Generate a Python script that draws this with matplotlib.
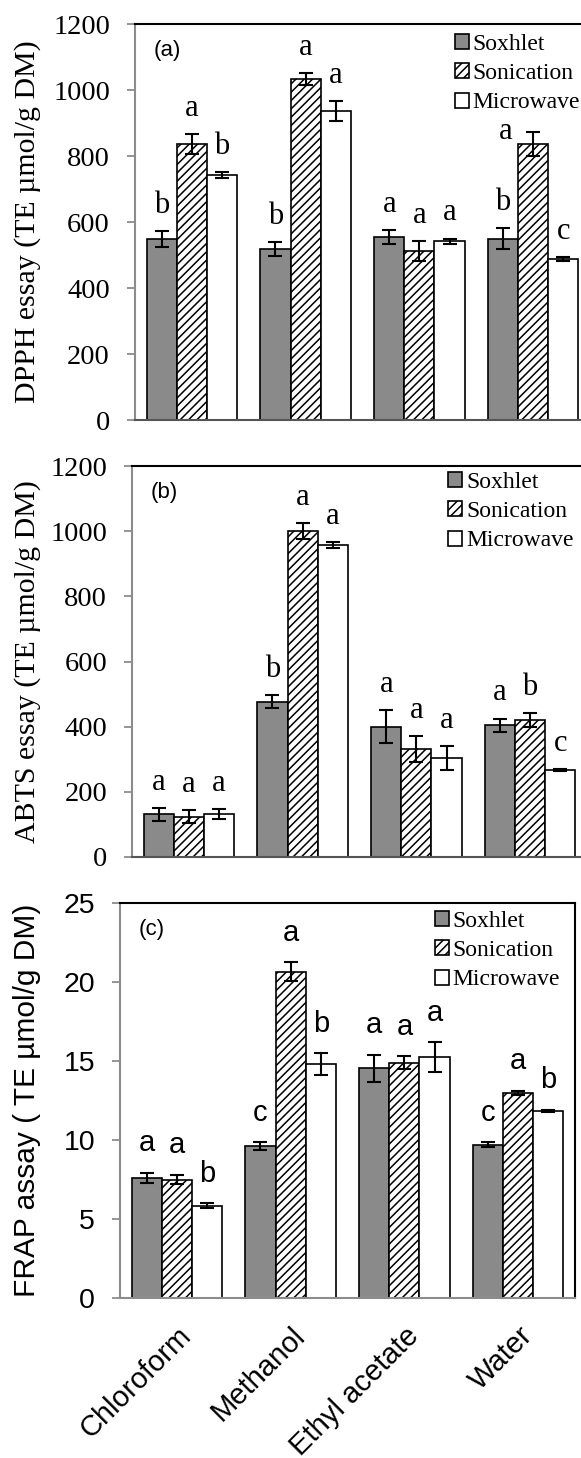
import matplotlib.pyplot as plt
from matplotlib.font_manager import FontProperties
import numpy as np

# solvents and extraction methods
categories = ["Chloroform", "Methanol", "Ethyl acetate", "Water"]
methods = ["Soxhlet", "Sonication", "Microwave"]

# (a) DPPH
dpph_soxhlet = [548, 518, 555, 550]
dpph_sonication = [836, 1033, 513, 836]
dpph_microwave = [742, 936, 542, 488]
dpph_soxhlet_err = [25, 20, 22, 33]
dpph_sonication_err = [30, 18, 30, 37]
dpph_microwave_err = [10, 30, 8, 6]
dpph_soxhlet_lab = ["b", "b", "a", "b"]
dpph_sonication_lab = ["a", "a", "a", "a"]
dpph_microwave_lab = ["b", "a", "a", "c"]

# (b) ABTS
abts_soxhlet = [131, 477, 400, 405]
abts_sonication = [123, 1000, 332, 420]
abts_microwave = [133, 957, 305, 268]
abts_soxhlet_err = [20, 21, 50, 20]
abts_sonication_err = [20, 25, 40, 22]
abts_microwave_err = [15, 10, 37, 3]
abts_soxhlet_lab = ["a", "b", "a", "a"]
abts_sonication_lab = ["a", "a", "a", "b"]
abts_microwave_lab = ["a", "a", "a", "c"]

# (c) FRAP
frap_soxhlet = [7.6, 9.62, 14.55, 9.7]
frap_sonication = [7.5, 20.65, 14.9, 12.97]
frap_microwave = [5.85, 14.8, 15.25, 11.85]
frap_soxhlet_err = [0.32, 0.25, 0.85, 0.15]
frap_sonication_err = [0.3, 0.6, 0.4, 0.15]
frap_microwave_err = [0.15, 0.7, 0.95, 0.07]
frap_soxhlet_lab = ["a", "c", "a", "c"]
frap_sonication_lab = ["a", "a", "a", "a"]
frap_microwave_lab = ["b", "b", "a", "b"]

SERIF = "Liberation Serif"
SANS = "Liberation Sans"
GREY = "#8c8c8c"
W, H = 581, 1458

fig = plt.figure(figsize=(W / 100, H / 100), dpi=100)
plt.rcParams["hatch.linewidth"] = 1.1


def assi_px(left, top, right, bottom):
    return fig.add_axes([left / W, 1 - bottom / H, (right - left) / W, (bottom - top) / H])


def pannello(ax, valori, errori, lettere, ylim, yticks, ylabel, tag, font,
             lab_x, leg_anchor, lett_off, lett_size, spost=None):
    spost = spost or {}
    x = np.arange(len(categories))
    w = 0.265
    stili = [dict(color="#8a8a8a", hatch=None),
             dict(color="white", hatch="////"),
             dict(color="white", hatch=None)]
    for i, m in enumerate(methods):
        pos = x + (i - 1) * w
        ax.bar(pos, valori[i], w, yerr=errori[i], color=stili[i]["color"],
               hatch=stili[i]["hatch"], edgecolor="black", linewidth=1.2, label=m,
               error_kw=dict(ecolor="black", elinewidth=1.5, capsize=5, capthick=1.5),
               zorder=2)
        for j, (xx, v, e, t) in enumerate(zip(pos, valori[i], errori[i], lettere[i])):
            dx, dy = spost.get((i, j), (0, 0))
            ax.annotate(t, (xx, v + e), xytext=(dx, lett_off + dy), textcoords="offset points",
                        ha="center", va="baseline", fontsize=lett_size, family=font)
    ax.set_xlim(-0.5, 3.5)
    ax.set_ylim(*ylim)
    ax.set_yticks(yticks)
    ax.set_yticklabels([str(t) for t in yticks], family=font, fontsize=20.5)
    ax.tick_params(axis="y", length=6, width=1.3, color=GREY, pad=12)
    ax.tick_params(axis="x", length=0)
    ax.set_xticks([])
    for s in ["top", "right"]:
        ax.spines[s].set_color("black")
        ax.spines[s].set_linewidth(1.5)
    ax.spines["left"].set_color(GREY)
    ax.spines["left"].set_linewidth(1.5)
    ax.spines["bottom"].set_color("#555555")
    ax.spines["bottom"].set_linewidth(1.5)
    ax.set_ylabel(ylabel, family=font, fontsize=21.5)
    ax.yaxis.set_label_coords(lab_x, 0.5)
    ax.text(0.07, 0.932, tag, transform=ax.transAxes, family=SANS, fontsize=16,
            ha="center", va="center")
    ax.legend(loc="upper left", bbox_to_anchor=leg_anchor, frameon=False,
              prop=FontProperties(family=SERIF, size=17), handlelength=0.6, handleheight=0.6,
              handletextpad=0.15, labelspacing=0.35, borderpad=0, borderaxespad=0)


ax_a = assi_px(135, 24, 590, 420)
pannello(ax_a,
         [dpph_soxhlet, dpph_sonication, dpph_microwave],
         [dpph_soxhlet_err, dpph_sonication_err, dpph_microwave_err],
         [dpph_soxhlet_lab, dpph_sonication_lab, dpph_microwave_lab],
         (0, 1200), [0, 200, 400, 600, 800, 1000, 1200],
         "DPPH essay (TE \u00b5mol/g DM)", "(a)", SERIF,
         -0.207, (0.703, 0.975), 13, 22, spost={(1, 3): (-20, -18)})

ax_b = assi_px(132, 466, 587, 857)
pannello(ax_b,
         [abts_soxhlet, abts_sonication, abts_microwave],
         [abts_soxhlet_err, abts_sonication_err, abts_microwave_err],
         [abts_soxhlet_lab, abts_sonication_lab, abts_microwave_lab],
         (0, 1200), [0, 200, 400, 600, 800, 1000, 1200],
         "ABTS essay (TE \u00b5mol/g DM)", "(b)", SERIF,
         -0.2, (0.695, 0.985), 13, 22)

ax_c = assi_px(120, 903, 575, 1298)
pannello(ax_c,
         [frap_soxhlet, frap_sonication, frap_microwave],
         [frap_soxhlet_err, frap_sonication_err, frap_microwave_err],
         [frap_soxhlet_lab, frap_sonication_lab, frap_microwave_lab],
         (0, 25), [0, 5, 10, 15, 20, 25],
         "FRAP assay ( TE \u00b5mol/g DM)", "(c)", SANS,
         -0.174, (0.692, 0.98), 15.5, 21)
ax_c.spines["bottom"].set_color(GREY)
ax_c.set_xticks(np.arange(len(categories)))
ax_c.set_xticklabels(categories, rotation=45, ha="right", rotation_mode="anchor",
                     family=SANS, fontsize=21)
ax_c.tick_params(axis="x", length=0, pad=17)

fig.savefig("out.png", dpi=100)
